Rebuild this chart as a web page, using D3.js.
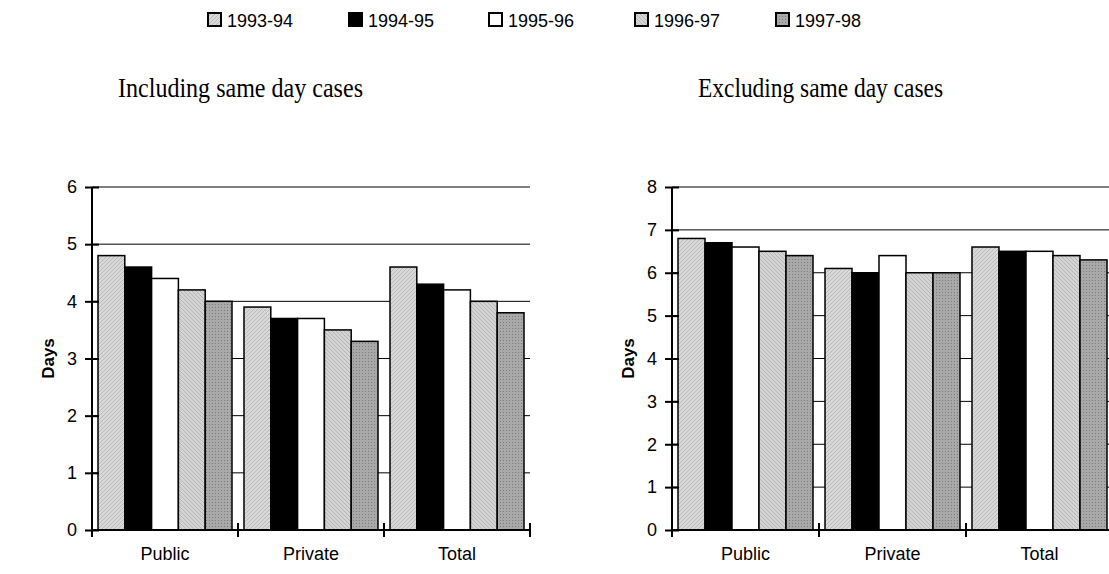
<!DOCTYPE html>
<html>
<head>
<meta charset="utf-8">
<script src="https://cdn.jsdelivr.net/npm/d3@7"></script>
<style>
  body { margin: 0; background: #fff; }
  svg { display: block; }
</style>
</head>
<body>
<svg width="1109" height="574"></svg>
<script>
// data
var categories = ["Public", "Private", "Total"];
var seriesNames = ["1993-94", "1994-95", "1995-96", "1996-97", "1997-98"];
var includingValues = [
  [4.8, 3.9, 4.6],
  [4.6, 3.7, 4.3],
  [4.4, 3.7, 4.2],
  [4.2, 3.5, 4.0],
  [4.0, 3.3, 3.8]
];
var excludingValues = [
  [6.8, 6.1, 6.6],
  [6.7, 6.0, 6.5],
  [6.6, 6.4, 6.5],
  [6.5, 6.0, 6.4],
  [6.4, 6.0, 6.3]
];
var includingTicks = [0, 1, 2, 3, 4, 5, 6];
var excludingTicks = [0, 1, 2, 3, 4, 5, 6, 7, 8];

var svg = d3.select("svg");
var defs = svg.append("defs");
var sans = "Liberation Sans, Arial, sans-serif";

// fill patterns
function hatch(id, bg, line, dir) {
  var p = defs.append("pattern").attr("id", id)
    .attr("patternUnits", "userSpaceOnUse").attr("width", 4).attr("height", 4);
  p.append("rect").attr("width", 4).attr("height", 4).attr("fill", bg);
  if (dir > 0) p.append("path").attr("d", "M-1,1 L1,-1 M0,4 L4,0 M3,5 L5,3");
  else p.append("path").attr("d", "M-1,3 L1,5 M0,0 L4,4 M3,-1 L5,1");
  p.select("path").attr("stroke", line).attr("stroke-width", 0.7);
}
hatch("p1", "#d8d8d8", "#acacac", 1);
hatch("p4", "#d4d4d4", "#a8a8a8", -1);
var pd = defs.append("pattern").attr("id", "p5")
  .attr("patternUnits", "userSpaceOnUse").attr("width", 3).attr("height", 3);
pd.append("rect").attr("width", 3).attr("height", 3).attr("fill", "#a9a9a9");
pd.append("rect").attr("width", 1).attr("height", 1).attr("fill", "#7a7a7a");

var fills = ["url(#p1)", "#000", "#fff", "url(#p4)", "url(#p5)"];

// legend
var legendX = [208, 349, 489, 635, 776];
var leg = svg.append("g").selectAll("g").data(seriesNames).enter().append("g")
  .attr("transform", function(d, i) { return "translate(" + legendX[i] + ",13)"; });
leg.append("rect").attr("x", 0).attr("y", 0).attr("width", 13).attr("height", 13)
  .attr("fill", function(d, i) { return fills[i]; })
  .attr("stroke", "#000").attr("stroke-width", 2);
leg.append("text").attr("x", 19).attr("y", 14)
  .attr("font-family", sans).attr("font-size", "18px")
  .text(function(d) { return d; });

function drawChart(opt) {
  var g = svg.append("g").attr("transform", "translate(" + opt.left + "," + opt.top + ")");
  var w = opt.width, h = opt.height;

  var x0 = d3.scaleBand().domain(categories).range([0, w]);
  var x1 = d3.scaleBand().domain(seriesNames).range([6, x0.bandwidth() - 6]);
  var y = d3.scaleLinear().domain([0, d3.max(opt.ticks)]).range([h, 0]);

  // title
  svg.append("text").attr("x", opt.titleX).attr("y", 97)
    .attr("font-family", "Liberation Serif, Times New Roman, serif").attr("font-size", "27px")
    .attr("textLength", 245).attr("lengthAdjust", "spacingAndGlyphs")
    .text(opt.title);

  // gridlines
  g.append("g").selectAll("line").data(opt.ticks.slice(1)).enter().append("line")
    .attr("x1", 0).attr("x2", w)
    .attr("y1", function(d) { return y(d); }).attr("y2", function(d) { return y(d); })
    .attr("stroke", "#000").attr("stroke-width", 1);

  // bars
  var rows = [];
  seriesNames.forEach(function(s, i) {
    categories.forEach(function(c, j) {
      rows.push({ s: s, i: i, c: c, v: opt.values[i][j] });
    });
  });
  g.append("g").selectAll("rect").data(rows).enter().append("rect")
    .attr("x", function(d) { return x0(d.c) + x1(d.s); })
    .attr("y", function(d) { return y(d.v); })
    .attr("width", x1.bandwidth())
    .attr("height", function(d) { return h - y(d.v); })
    .attr("fill", function(d) { return fills[d.i]; })
    .attr("stroke", "#000").attr("stroke-width", 1.5);

  // y axis
  var ya = g.append("g").call(d3.axisLeft(y).tickValues(opt.ticks)
    .tickFormat(d3.format("d")).tickSize(7).tickPadding(8));
  ya.select(".domain").attr("stroke-width", 2).attr("d", "M0," + h + "V0");
  ya.selectAll(".tick line").attr("x2", -7).attr("x1", 7).attr("stroke-width", 2);
  ya.selectAll(".tick text").attr("font-family", sans)
    .attr("font-size", "18px").attr("fill", "#000");

  // x axis
  var xa = g.append("g").attr("transform", "translate(0," + h + ")")
    .call(d3.axisBottom(x0).tickSize(0).tickPadding(17));
  xa.select(".domain").attr("stroke-width", 2).attr("d", "M0,0H" + w);
  xa.selectAll(".tick text").attr("font-family", sans)
    .attr("font-size", "18px").attr("fill", "#000");
  var bounds = categories.map(function(c) { return x0(c); }).concat([w]);
  xa.append("g").selectAll("line").data(bounds).enter().append("line")
    .attr("x1", function(d) { return d; }).attr("x2", function(d) { return d; })
    .attr("y1", -7).attr("y2", 7).attr("stroke", "#000").attr("stroke-width", 2);

  // y title
  svg.append("text")
    .attr("transform", "translate(" + opt.yTitleX + "," + (opt.top + h / 2) + ") rotate(-90)")
    .attr("text-anchor", "middle")
    .attr("font-family", sans).attr("font-size", "17px")
    .attr("font-weight", "bold").text("Days");
}

drawChart({ left: 92, top: 187, width: 438, height: 343, values: includingValues,
  ticks: includingTicks, title: "Including same day cases", titleX: 118, yTitleX: 54 });
drawChart({ left: 672, top: 187, width: 441, height: 343, values: excludingValues,
  ticks: excludingTicks, title: "Excluding same day cases", titleX: 698, yTitleX: 634 });
</script>
</body>
</html>
